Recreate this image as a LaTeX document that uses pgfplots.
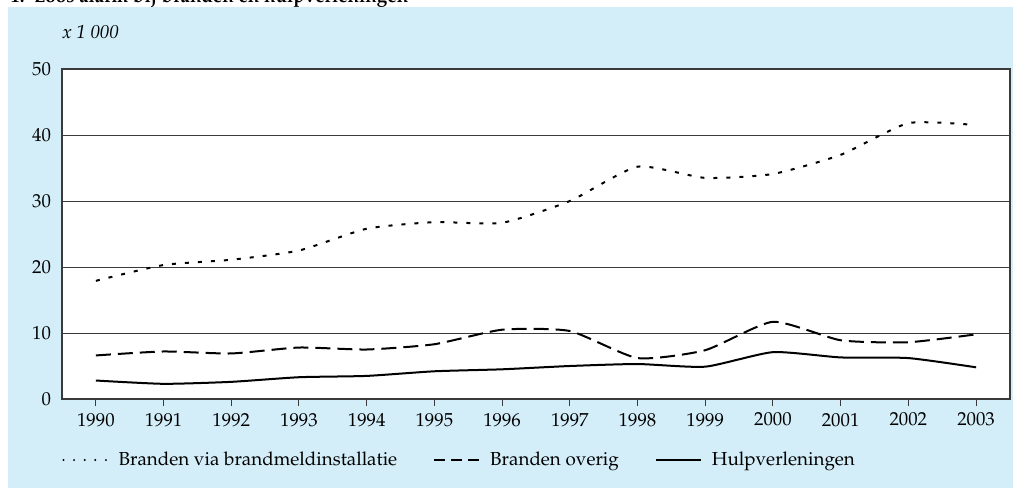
\documentclass[border=0pt]{standalone}
\usepackage[T1]{fontenc}
\usepackage{mathpazo}
\usepackage{pgfplots}
\pgfplotsset{compat=1.18}
\definecolor{bgblue}{HTML}{D3EEF9}
\definecolor{gridgray}{HTML}{3A3A3A}
\pgfplotstableread{
year brand overig hulp
1990 17.9 6.6 2.8
1991 20.3 7.2 2.3
1992 21.1 6.9 2.6
1993 22.5 7.8 3.3
1994 25.8 7.5 3.5
1995 26.8 8.3 4.2
1996 26.7 10.5 4.5
1997 30.0 10.3 5.0
1998 35.2 6.2 5.3
1999 33.5 7.4 4.9
2000 34.1 11.7 7.1
2001 37.0 8.9 6.3
2002 41.8 8.6 6.2
2003 41.5 9.8 4.8
}\datatable
\newcommand\chartfont{\fontsize{9.4}{11}\selectfont}
\begin{document}
\begin{tikzpicture}
\path[use as bounding box, clip] (0pt,0pt) rectangle (506.5pt,244pt);
\fill[bgblue] (4pt,0pt) rectangle (506.5pt,240.5pt);
\node[anchor=base west, font=\bfseries\chartfont, inner sep=0pt] at (5pt,242.5pt) {1.\ \ Loos alarm bij branden en hulpverleningen};
\node[anchor=base west, font=\itshape\chartfont, inner sep=0pt] at (31pt,224.5pt) {x 1 000};
\begin{axis}[
  at={(31pt,44.5pt)}, anchor=south west,
  width=474pt, height=165pt, scale only axis,
  xmin=1989.5, xmax=2003.5, ymin=0, ymax=50,
  xtick={1990,...,2003}, ytick={0,10,...,50},
  xticklabel style={/pgf/number format/1000 sep=},
  x tick label style={font=\chartfont},
  y tick label style={font=\chartfont, xshift=-2pt},
  xtick align=outside, major tick length=3.5pt,
  xtick pos=bottom,
  ytick style={draw=none},
  xtick style={gridgray, line width=0.5pt},
  ymajorgrids, grid style={gridgray, line width=0.5pt},
  axis line style={gridgray, line width=0.6pt},
  axis background/.style={fill=white},
  legend columns=3,
  legend style={draw=none, fill=none, at={(0,0)}, anchor=west, yshift=-30.5pt,
    font=\chartfont, inner sep=0pt,
    /tikz/every odd column/.append style={column sep=3pt},
    /tikz/every even column/.append style={column sep=16pt}},
  legend cell align=left,
]
\addlegendimage{legend image code/.code={\draw[black, line width=1.1pt, line cap=round, dash pattern=on 0pt off 5.3pt] (0pt,0pt) -- (22pt,0pt);}}
\addlegendimage{legend image code/.code={\draw[black, line width=1pt, dash pattern=on 5.5pt off 3pt] (0pt,0pt) -- (22.5pt,0pt);}}
\addlegendimage{legend image code/.code={\draw[black, line width=1pt] (0pt,0pt) -- (22.5pt,0pt);}}
\addplot[forget plot, black, line width=1pt, smooth, tension=0.35, dash pattern=on 2pt off 4.5pt] table[x=year, y=brand] {\datatable};
\addplot[forget plot, black, line width=1pt, smooth, tension=0.35, dash pattern=on 7.5pt off 3.5pt] table[x=year, y=overig] {\datatable};
\addplot[forget plot, black, line width=1pt, smooth, tension=0.35] table[x=year, y=hulp] {\datatable};
\legend{Branden via brandmeldinstallatie, Branden overig, Hulpverleningen}
\end{axis}
\end{tikzpicture}
\end{document}
